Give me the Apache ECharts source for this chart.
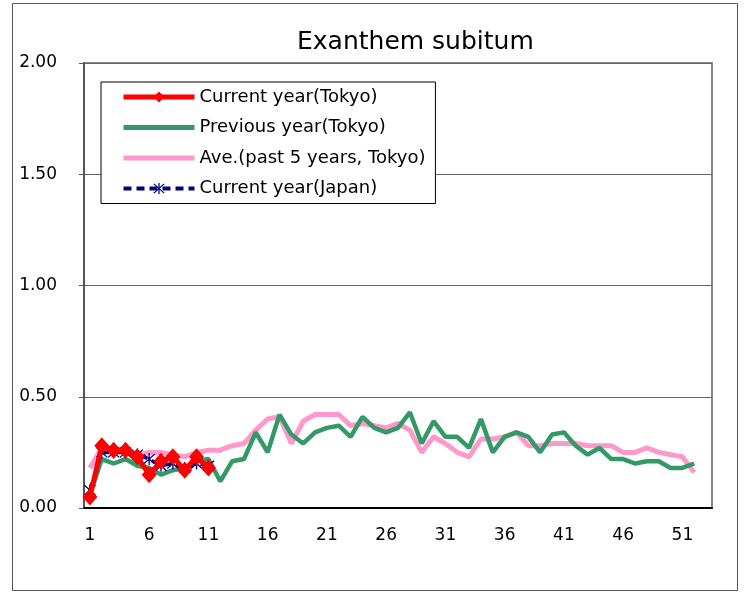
<!DOCTYPE html>
<html>
<head>
<meta charset="utf-8">
<title>Exanthem subitum</title>
<script src="https://cdn.jsdelivr.net/npm/echarts@6/dist/echarts.min.js"></script>
<style>
  html, body { margin: 0; padding: 0; background: #fff; }
  #main { width: 747px; height: 593px; }
</style>
</head>
<body>
<div id="main"></div>
<script>
// week numbers
var weeks = ['1','2','3','4','5','6','7','8','9','10','11','12','13','14','15','16','17','18','19','20',
  '21','22','23','24','25','26','27','28','29','30','31','32','33','34','35','36','37','38','39','40',
  '41','42','43','44','45','46','47','48','49','50','51','52','53']

var currentTokyo = [0.05, 0.28, 0.26, 0.26, 0.23, 0.15, 0.21, 0.23, 0.17, 0.23, 0.18]

var previousTokyo = [0.06, 0.22, 0.20, 0.22, 0.19, 0.18, 0.15, 0.17, 0.18, 0.21,
  0.22, 0.12, 0.21, 0.22, 0.34, 0.25, 0.42, 0.33, 0.29, 0.34,
  0.36, 0.37, 0.32, 0.41, 0.36, 0.34, 0.36, 0.43, 0.29, 0.39,
  0.32, 0.32, 0.27, 0.40, 0.25, 0.32, 0.34, 0.32, 0.25, 0.33,
  0.34, 0.28, 0.24, 0.27, 0.22, 0.22, 0.20, 0.21, 0.21, 0.18, 0.18, 0.20]

var avg5Tokyo = [0.18, 0.27, 0.26, 0.25, 0.24, 0.25, 0.25, 0.24, 0.23, 0.25,
  0.26, 0.26, 0.28, 0.29, 0.35, 0.40, 0.41, 0.29, 0.39, 0.42,
  0.42, 0.42, 0.37, 0.38, 0.37, 0.36, 0.38, 0.35, 0.25, 0.32,
  0.29, 0.25, 0.23, 0.31, 0.31, 0.32, 0.34, 0.28, 0.28, 0.29,
  0.29, 0.29, 0.28, 0.28, 0.28, 0.25, 0.25, 0.27, 0.25, 0.24, 0.23, 0.16]

var currentJapan = [0.08, 0.25, 0.25, 0.25, 0.24, 0.22, 0.19, 0.20, 0.18, 0.20, 0.19]

var yTicks = [0, 0.5, 1.0, 1.5, 2.0]

var FONT = 'DejaVu Sans'
// asterisk marker (x + vertical bar)
var asterisk = 'path://M9,0 H11 V20 H9 Z M1,2.4 L2.4,1 L19,17.6 L17.6,19 Z M17.6,1 L19,2.4 L2.4,19 L1,17.6 Z'
var noMark = { color: 'rgba(0,0,0,0)', opacity: 0, borderWidth: 0 }

var chart = echarts.init(document.getElementById('main'))

var option = {
  animation: false,
  backgroundColor: '#fff',
  title: {
    text: 'Exanthem subitum',
    left: 292,
    top: 25,
    textStyle: { fontFamily: FONT, fontSize: 25, fontWeight: 'normal', color: '#000' }
  },
  graphic: [{
    type: 'rect',
    shape: { x: 12.5, y: 3.5, width: 725, height: 587 },
    style: { fill: 'none', stroke: '#555', lineWidth: 1 },
    silent: true
  }],
  legend: {
    orient: 'vertical',
    left: 101,
    top: 82,
    padding: [6, 10, 6, 20],
    itemWidth: 71,
    itemHeight: 14,
    itemGap: 12.5,
    borderColor: '#000',
    borderWidth: 1,
    backgroundColor: '#fff',
    textStyle: { fontFamily: FONT, fontSize: 18, color: '#000' },
    data: [
      { name: 'Current year(Tokyo)', lineStyle: { width: 5 } },
      { name: 'Previous year(Tokyo)', lineStyle: { width: 5 }, itemStyle: noMark },
      { name: 'Ave.(past 5 years, Tokyo)', lineStyle: { width: 5 }, itemStyle: noMark },
      { name: 'Current year(Japan)', lineStyle: { width: 4 } }
    ]
  },
  grid: {
    left: 84,
    right: 35,
    top: 63,
    bottom: 85,
    show: true,
    borderColor: '#888',
    borderWidth: 2
  },
  xAxis: {
    type: 'category',
    data: weeks,
    boundaryGap: true,
    axisLine: { lineStyle: { color: '#000', width: 2 } },
    axisTick: { interval: 4, inside: true, length: 6, lineStyle: { color: '#000' } },
    axisLabel: { interval: 4, margin: 19, fontFamily: FONT, fontSize: 17, color: '#000' },
    splitLine: { show: false }
  },
  yAxis: {
    type: 'value',
    min: yTicks[0],
    max: yTicks[yTicks.length - 1],
    interval: 0.5,
    axisLine: { show: true, lineStyle: { color: '#555', width: 2 } },
    axisTick: { show: true, length: 5, lineStyle: { color: '#555' } },
    axisLabel: {
      margin: 27,
      fontFamily: FONT,
      fontSize: 17,
      color: '#000',
      formatter: function (v) { return v.toFixed(2) }
    },
    splitLine: { lineStyle: { color: '#666', width: 1 } }
  },
  series: [
    {
      name: 'Current year(Tokyo)',
      type: 'line',
      data: currentTokyo,
      z: 5,
      symbol: 'diamond',
      symbolSize: [15, 17],
      showAllSymbol: true,
      color: '#ff0000',
      itemStyle: { color: '#ff0000' },
      lineStyle: { color: '#ff0000', width: 5 }
    },
    {
      name: 'Previous year(Tokyo)',
      type: 'line',
      data: previousTokyo,
      z: 3,
      symbol: 'none',
      color: '#339966',
      lineStyle: { color: '#339966', width: 4.5 }
    },
    {
      name: 'Ave.(past 5 years, Tokyo)',
      type: 'line',
      data: avg5Tokyo,
      z: 2,
      symbol: 'none',
      color: '#ff99cc',
      lineStyle: { color: '#ff99cc', width: 5 }
    },
    {
      name: 'Current year(Japan)',
      type: 'line',
      data: currentJapan,
      z: 4,
      symbol: asterisk,
      symbolSize: 12,
      showAllSymbol: true,
      color: '#000080',
      itemStyle: { color: '#000080' },
      lineStyle: { color: '#000080', width: 3.5, type: [8, 5] }
    }
  ]
}

chart.setOption(option)
</script>
</body>
</html>
